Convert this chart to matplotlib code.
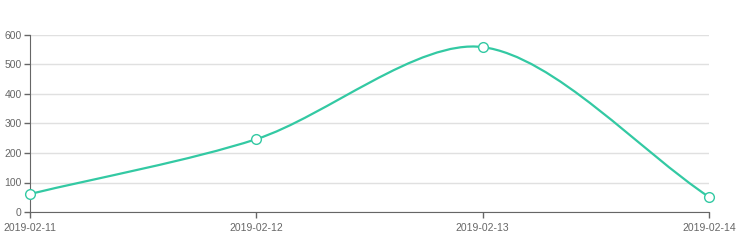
import numpy as np
import matplotlib
matplotlib.use("Agg")
import matplotlib.pyplot as plt
from matplotlib.path import Path
from matplotlib.patches import PathPatch

dates = ["2019-02-11", "2019-02-12", "2019-02-13", "2019-02-14"]
values = [61, 247, 559, 51]
yticks = [0, 100, 200, 300, 400, 500, 600]

lineColor = "#33c9a3"
axisColor = "#666666"

plt.rcParams['font.family'] = ['Liberation Sans', 'DejaVu Sans']

fig = plt.figure(figsize=(7.37, 2.44), dpi=100)
ax = fig.add_axes([30/737, 32/244, 679/737, 177/244])
ax.set_xlim(0, len(dates) - 1)
ax.set_ylim(0, 600)

# Grid lines
ax.set_yticks(yticks)
ax.yaxis.grid(True, color="#e0e0e0", linewidth=1)
ax.set_axisbelow(True)

ax.set_xticks(range(len(dates)))
ax.set_xticklabels(dates)

for side in ["top", "right"]:
    ax.spines[side].set_visible(False)
ax.spines["left"].set_color(axisColor)
ax.spines["bottom"].set_color(axisColor)
ax.tick_params(axis="both", colors=axisColor, labelsize=7.5, length=4, width=1)
ax.tick_params(axis="y", pad=2)
ax.tick_params(axis="x", pad=4)

# Smooth bezier in display space (echarts style, smooth=0.3)
fig.canvas.draw()
pts = ax.transData.transform(np.column_stack([np.arange(len(values)), values]))
smooth = 0.3
cps = []
for i in range(len(pts)):
    cur = pts[i]
    prev = pts[i - 1] if i > 0 else cur
    nxt = pts[i + 1] if i < len(pts) - 1 else cur
    v = (nxt - prev) * smooth
    d0 = np.hypot(*(cur - prev))
    d1 = np.hypot(*(cur - nxt))
    s = d0 + d1
    if s != 0:
        d0 /= s
        d1 /= s
    cps.append((cur - v * d0, cur + v * d1))

verts = [pts[0]]
codes = [Path.MOVETO]
for i in range(len(pts) - 1):
    verts += [cps[i][1], cps[i + 1][0], pts[i + 1]]
    codes += [Path.CURVE4] * 3
path = Path(verts, codes)
patch = PathPatch(path, facecolor="none", edgecolor=lineColor, linewidth=1.6,
                  transform=None, clip_on=False, zorder=3)
ax.add_artist(patch)

ax.plot(range(len(values)), values, linestyle="none", marker="o", markersize=7,
        markerfacecolor="white", markeredgecolor=lineColor, markeredgewidth=1,
        clip_on=False, zorder=4)

fig.savefig("out.png", dpi=100)
